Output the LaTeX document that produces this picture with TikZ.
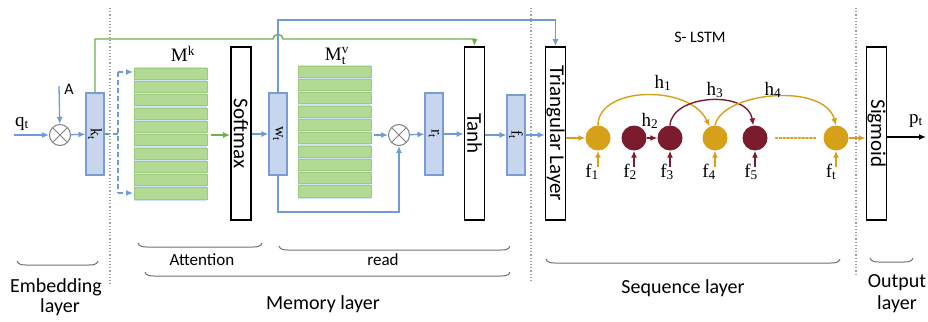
\documentclass[tikz,border=0pt]{standalone}
\usepackage{fontspec}
\setmainfont{Carlito}
\setmathrm{Liberation Serif}
\usetikzlibrary{arrows.meta,calc}

\definecolor{lineblue}{HTML}{6E9BD6}
\definecolor{boxblue}{HTML}{C8D5EE}
\definecolor{boxedge}{HTML}{7A9CD3}
\definecolor{memgreen}{HTML}{B2DA95}
\definecolor{memedge}{HTML}{9CCB7E}
\definecolor{memgap}{HTML}{D3E2F3}
\definecolor{linegreen}{HTML}{6DB14A}
\definecolor{gold}{HTML}{D6A019}
\definecolor{maroon}{HTML}{7A1C2E}
\definecolor{bracegray}{HTML}{707070}
\definecolor{sepgray}{HTML}{A0A0A0}

\newcommand{\layerbrace}[3]{%
  \draw[bracegray, line width=1pt]
    (#1,#3-4) to[out=-75,in=180] (#1+9,#3) -- (#2-9,#3) to[out=0,in=-105] (#2,#3-4);}

\newcommand{\membank}[4]{% x1, x2, ytop, pitch
  \fill[memgap] (#1,#3) rectangle (#2,#3+10*#4+1);
  \foreach \i in {0,...,9}{
    \draw[memedge, fill=memgreen, line width=0.5pt]
      (#1,#3+\i*#4+1) rectangle (#2,#3+\i*#4+#4-1.2);}}

\tikzset{
  tip/.style={-{Latex[length=7pt,width=6pt]}},
  vecbox/.style={draw=boxedge, fill=boxblue, line width=1.1pt,
    minimum width=18pt, minimum height=82pt, inner sep=0pt},
  layerbox/.style={draw=black, line width=1.8pt, fill=white,
    minimum width=20pt, minimum height=173pt, inner sep=0pt},
  boxtext/.style={rotate=-90, inner sep=0pt, font=\fontsize{21}{24}\selectfont},
  vectext/.style={rotate=-90, inner sep=0pt, font=\fontsize{16}{18}\selectfont},
  prodnode/.style={circle, draw=gray, line width=1pt, minimum size=21pt, inner sep=0pt,
    path picture={\draw[gray, line width=1pt]
      (path picture bounding box.south west) -- (path picture bounding box.north east)
      (path picture bounding box.north west) -- (path picture bounding box.south east);}},
  blueflow/.style={lineblue, line width=1.3pt, tip},
  greenflow/.style={linegreen, line width=1.4pt, tip},
  goldflow/.style={gold, line width=1.4pt, tip},
  maroonflow/.style={maroon, line width=1.4pt, tip},
  cell/.style={circle, minimum size=25pt, inner sep=0pt},
  goldcell/.style={cell, fill=gold},
  marooncell/.style={cell, fill=maroon},
  mlabel/.style={inner sep=0pt, anchor=base, font=\fontsize{19}{22}\selectfont},
  sep/.style={sepgray, line width=1.2pt, dotted},
  caption/.style={inner sep=0pt, anchor=base, font=\fontsize{20}{24}\selectfont},
}

\begin{document}
\begin{tikzpicture}[x=1pt, y=-1pt]
\useasboundingbox (0,0) rectangle (928,321);

% layer separators
\draw[sep] (110,8) -- (110,284);
\draw[sep] (531,8) -- (531,282);
\draw[sep] (856,8) -- (856,274);

% embedding layer
\node[mlabel] (q) at (22,126) {$\mathrm{q_t}$};
\node[inner sep=0pt, anchor=base, font=\fontsize{16}{18}\selectfont] (A) at (69,94) {A};
\node[prodnode] (m1) at (60,135) {};
\coordinate (qin) at (14,135);
\coordinate (ain) at (59,86);
\node[vecbox] (kt) at (95,134) {};
\node[vectext] at (kt) {$\mathrm{k_t}$};
\draw[blueflow] (qin) -- (m1);
\draw[blueflow] (ain) -- (m1);
\draw[blueflow] (m1) -- (kt);

% key memory
\membank{134}{207}{67}{13.3}
\node[mlabel] (mkl) at (183,62) {$\mathrm{M^k}$};
\coordinate (mkw1) at (133,72);
\coordinate (mkw2) at (133,193);
\coordinate (mke) at (211,135);
\coordinate (dsplit) at (118,134);
\draw[lineblue, line width=1.3pt, dash pattern=on 5pt off 3pt] (kt.east) -- (dsplit);
\draw[lineblue, line width=1.3pt, dash pattern=on 5pt off 3pt] (dsplit |- mkw1) -- (dsplit |- mkw2);
\draw[blueflow, dash pattern=on 5pt off 3pt] (dsplit |- mkw1) -- (mkw1);
\draw[blueflow, dash pattern=on 5pt off 3pt] (dsplit |- mkw2) -- (mkw2);

\node[layerbox] (sm) at (241,133.5) {};
\node[boxtext] at (sm) {Softmax};
\draw[greenflow] (mke) -- (sm.west |- mke);

\node[vecbox] (wt) at (278,134) {};
\node[vectext] at (wt) {$\mathrm{w_t}$};
\draw[blueflow] (sm.east |- wt) -- (wt);

% value memory and read
\membank{298}{371}{65}{13.3}
\node[mlabel] (mvl) at (337,60) {$\mathrm{M_t^v}$};
\coordinate (mve) at (374,135);
\node[prodnode] (m2) at (399,135) {};
\draw[blueflow] (mve) -- (m2);
\coordinate (wlow) at (278,212);
\draw[blueflow] (wt.south) -- (wlow) -| (m2.south);

\node[vecbox] (rt) at (434,134) {};
\node[vectext] at (rt) {$\mathrm{r_t}$};
\draw[blueflow] (m2) -- (rt);

\node[layerbox] (th) at (474.5,133.5) {};
\node[boxtext] at (th) {Tanh};
\draw[blueflow] (rt) -- (th.west |- rt);

\node[vecbox, minimum height=80pt] (ft) at (516,135) {};
\node[vectext] at (ft) {$\mathrm{f_t}$};
\draw[blueflow] (th.east |- ft) -- (ft);

\node[layerbox] (tri) at (555.5,133.5) {};
\node[boxtext] at (tri) {Triangular Layer};
\draw[blueflow] (ft) -- (tri.west |- ft);

% long skip connections
\coordinate (gtop) at (95,39);
\draw[linegreen, line width=1.4pt, tip]
  (kt.north) -- (gtop) -- (273,39) .. controls (273,33) and (283,33) .. (283,39)
  -- (th.north |- gtop) -- (th.north);
\coordinate (btop) at (278,20);
\draw[blueflow] (wt.north) -- (btop) -| (tri.north);

% sequence layer
\node[inner sep=0pt, anchor=base, font=\fontsize{16}{19}\selectfont] (slstm) at (700,43) {S- LSTM};
\node[goldcell]   (c1) at (598,138) {};
\node[marooncell] (c2) at (634,138) {};
\node[marooncell] (c3) at (670,138) {};
\node[goldcell]   (c4) at (715,138) {};
\node[marooncell] (c5) at (755,138) {};
\node[goldcell]   (ct) at (836,138) {};

\draw[goldflow] (tri.east |- c1) -- (c1);
\draw[maroonflow] (c2) -- (c3);
\draw[gold, line width=1.8pt, dotted, line cap=round] (c5.east) ++(8,0) -- ($(ct.west)+(-8,0)$);

\draw[goldflow] (c1.north) .. controls (598,86) and (690,84) .. (c4.115);
\draw[maroonflow] (c3.north) .. controls (672,94) and (748,90) .. (c5.98);
\draw[goldflow] (c4.north) .. controls (722,92) and (824,82) .. (ct.north);

\node[mlabel] (h1) at (663,88) {$\mathrm{h_1}$};
\node[mlabel] (h2) at (650,126) {$\mathrm{h_2}$};
\node[mlabel] (h3) at (715,95) {$\mathrm{h_3}$};
\node[mlabel] (h4) at (773,95) {$\mathrm{h_4}$};

\foreach \c/\col/\k/\lx in {c1/gold/1/592, c2/maroon/2/630, c3/maroon/3/667, c4/gold/4/709, c5/maroon/5/751, ct/gold/t/831}{
  \coordinate (in\c) at ($(\c.south)+(0,16)$);
  \draw[\col, line width=1.4pt, tip] (in\c) -- (\c.south);
  \node[mlabel] (lab\c) at (\lx,177) {$\mathrm{f_\k}$};
}

% output layer
\node[layerbox] (sg) at (876.5,133.5) {};
\node[boxtext] at (sg) {Sigmoid};
\draw[goldflow] (ct) -- (sg.west |- ct);
\coordinate (pout) at (926,137);
\draw[black, line width=1.4pt, tip] (sg.east |- pout) -- (pout);
\node[mlabel] (pt) at (916,123) {$\mathrm{p_t}$};

% brackets and captions
\layerbrace{17}{98}{265}
\layerbrace{138}{262}{247}
\layerbrace{279}{510}{250}
\layerbrace{145}{510}{276}
\layerbrace{546}{840}{263}
\layerbrace{870}{913}{262}

\node[caption] at (56,292) {Embedding};
\node[caption] at (60,312) {layer};
\node[inner sep=0pt, anchor=base, font=\fontsize{17}{19}\selectfont] at (202,265) {Attention};
\node[inner sep=0pt, anchor=base, font=\fontsize{17}{19}\selectfont] at (383,265) {read};
\node[caption] at (323,309) {Memory layer};
\node[caption] at (683,293) {Sequence layer};
\node[caption] at (897,287) {Output};
\node[caption] at (897,309) {layer};
\end{tikzpicture}
\end{document}
